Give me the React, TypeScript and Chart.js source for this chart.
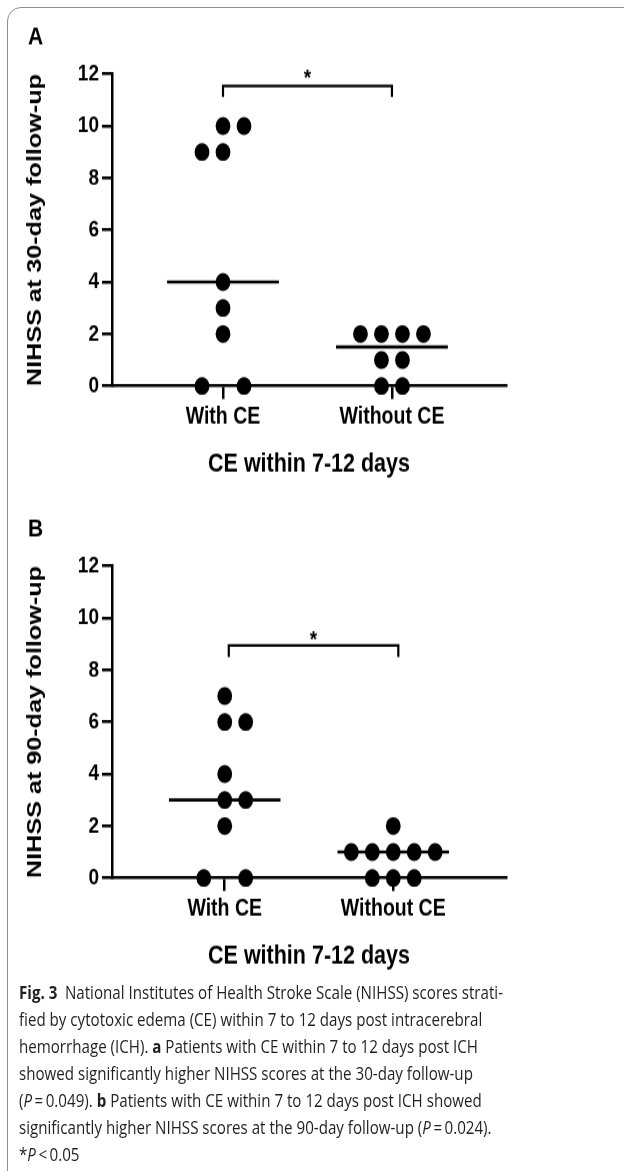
import React, { useEffect, useLayoutEffect, useRef } from "react";
import { Chart, registerables } from "chart.js";

Chart.register(...registerables);

// ---------------- data ----------------
const CATEGORIES = ["With CE", "Without CE"];
const CATEGORY_POS = [1, 2];
const Y_MIN = 0;
const Y_MAX = 12;
const Y_STEP = 2;

// Panel A – 30-day follow-up
const withCE30 = [10, 10, 9, 9, 4, 3, 2, 0, 0];
const withCE30Slot = [0, 1, -1, 0, 0, 0, 0, -1, 1];
const withoutCE30 = [2, 2, 2, 2, 1, 1, 0, 0];
const withoutCE30Slot = [-1.5, -0.5, 0.5, 1.5, -0.5, 0.5, -0.5, 0.5];

// Panel B – 90-day follow-up
const withCE90 = [7, 6, 6, 4, 3, 3, 2, 0, 0];
const withCE90Slot = [0, 0, 1, 0, 0, 1, 0, -1, 1];
const withoutCE90 = [2, 1, 1, 1, 1, 1, 0, 0, 0];
const withoutCE90Slot = [0, -2, -1, 0, 1, 2, -1, 0, 1];

const panelLetters = ["A", "B"];
const yTitles = ["NIHSS at 30-day follow-up", "NIHSS at 90-day follow-up"];
const xTitle = "CE within 7-12 days";
const sigMark = "*";

// ---------------- styles ----------------
const K = 1.2; // vertical stretch of the original figure
const CW = 624;
const CH = 410;
const FONT = "'Liberation Sans', Arial, Helvetica, sans-serif";
const SLOT = 0.1243; // horizontal spacing of stacked dots (x units)
const HALF_MEDIAN = 0.331;
const AREA_TOP = 74 / K;
const AREA_BOTTOM = 386 / K;
const PAD_LEFT = 22.4;
const AREA_LEFT = 112;

const median = (a: number[]) => {
  const s = [...a].sort((p, q) => p - q);
  const n = s.length;
  return n % 2 ? s[(n - 1) / 2] : (s[n / 2 - 1] + s[n / 2]) / 2;
};

type Panel = {
  letter: string;
  yTitle: string;
  withVals: number[];
  withSlots: number[];
  withoutVals: number[];
  withoutSlots: number[];
  xMin: number;
  xMax: number;
  bracket: { x1: number; x2: number; top: number; leg: number; star: number };
};

const panels: Panel[] = [
  {
    letter: panelLetters[0],
    yTitle: yTitles[0],
    withVals: withCE30,
    withSlots: withCE30Slot,
    withoutVals: withoutCE30,
    withoutSlots: withoutCE30Slot,
    xMin: 0.343,
    xMax: 2.675,
    bracket: { x1: 1, x2: 2, top: 11.54, leg: 11.12, star: 12.05 },
  },
  {
    letter: panelLetters[1],
    yTitle: yTitles[1],
    withVals: withCE90,
    withSlots: withCE90Slot,
    withoutVals: withoutCE90,
    withoutSlots: withoutCE90Slot,
    xMin: 0.331,
    xMax: 2.669,
    bracket: { x1: 1.024, x2: 2.03, top: 8.94, leg: 8.5, star: 9.4 },
  },
];

const annotPlugin = {
  id: "annot",
  afterDatasetsDraw(chart: any, _args: any, opts: any) {
    const { ctx, scales } = chart;
    const x = scales.x;
    const y = scales.y;
    ctx.save();
    ctx.fillStyle = "#000";
    // significance star
    ctx.font = `bold 19px ${FONT}`;
    ctx.textAlign = "center";
    ctx.textBaseline = "alphabetic";
    const sx = x.getPixelForValue((opts.x1 + opts.x2) / 2);
    const sy = y.getPixelForValue(opts.star) + 0.57 * 19;
    ctx.fillText(opts.mark, sx, sy);
    // panel letter
    ctx.font = `bold 21px ${FONT}`;
    ctx.textAlign = "left";
    ctx.textBaseline = "middle";
    ctx.fillText(opts.letter, 28, 38 / K);
    ctx.restore();
  },
};

function buildChart(canvas: HTMLCanvasElement, p: Panel) {
  const pts = (vals: number[], slots: number[], cat: number) =>
    vals.map((v, i) => ({ x: cat + slots[i] * SLOT, y: v }));
  const m1 = median(p.withVals);
  const m2 = median(p.withoutVals);
  const lineDs = (data: any[], w: number) => ({
    type: "line" as const,
    data,
    borderColor: "#000",
    borderWidth: w,
    pointRadius: 0,
    showLine: true,
    clip: false as const,
    borderCapStyle: "butt" as const,
    borderJoinStyle: "miter" as const,
  });
  return new Chart(canvas, {
    type: "scatter",
    data: {
      datasets: [
        lineDs(
          [
            { x: CATEGORY_POS[0] - HALF_MEDIAN, y: m1 },
            { x: CATEGORY_POS[0] + HALF_MEDIAN, y: m1 },
          ],
          2.6
        ),
        lineDs(
          [
            { x: CATEGORY_POS[1] - HALF_MEDIAN, y: m2 },
            { x: CATEGORY_POS[1] + HALF_MEDIAN, y: m2 },
          ],
          2.6
        ),
        lineDs(
          [
            { x: p.bracket.x1, y: p.bracket.leg },
            { x: p.bracket.x1, y: p.bracket.top },
            { x: p.bracket.x2, y: p.bracket.top },
            { x: p.bracket.x2, y: p.bracket.leg },
          ],
          2.2
        ),
        {
          type: "scatter" as const,
          data: [
            ...pts(p.withVals, p.withSlots, CATEGORY_POS[0]),
            ...pts(p.withoutVals, p.withoutSlots, CATEGORY_POS[1]),
          ],
          pointRadius: 7.4,
          pointHoverRadius: 7.4,
          pointBackgroundColor: "#000",
          pointBorderWidth: 0,
          clip: false as const,
        },
      ] as any,
    },
    options: {
      animation: false,
      responsive: false,
      maintainAspectRatio: false,
      events: [],
      layout: { padding: { top: AREA_TOP, left: PAD_LEFT, right: CW - 506, bottom: 0 } },
      plugins: {
        legend: { display: false },
        tooltip: { enabled: false },
        annot: {
          x1: p.bracket.x1,
          x2: p.bracket.x2,
          star: p.bracket.star,
          mark: sigMark,
          letter: p.letter,
        },
      } as any,
      scales: {
        x: {
          type: "linear",
          min: p.xMin,
          max: p.xMax,
          afterBuildTicks: (s: any) => {
            s.ticks = CATEGORY_POS.map((v) => ({ value: v }));
          },
          afterFit: (s: any) => {
            s.height = CH - AREA_BOTTOM;
          },
          ticks: {
            callback: (_v: any, i: number) => CATEGORIES[i],
            font: { family: FONT, size: 19.5, weight: "bold" },
            color: "#000",
            padding: 3,
            maxRotation: 0,
            autoSkip: false,
          },
          grid: {
            display: true,
            drawOnChartArea: false,
            drawTicks: true,
            tickLength: 13 / K,
            color: "#000",
            lineWidth: 2.5,
          },
          border: { display: true, color: "#000", width: 2.5 },
          title: {
            display: true,
            text: xTitle,
            font: { family: FONT, size: 21.5, weight: "bold" },
            color: "#000",
            padding: { top: 0, bottom: 9.6 },
          },
        },
        y: {
          type: "linear",
          min: Y_MIN,
          max: Y_MAX,
          afterFit: (s: any) => {
            s.width = AREA_LEFT - PAD_LEFT;
          },
          ticks: {
            stepSize: Y_STEP,
            font: { family: FONT, size: 19, weight: "bold" },
            color: "#000",
            padding: 3,
          },
          grid: {
            display: true,
            drawOnChartArea: false,
            drawTicks: true,
            tickLength: 10,
            color: "#000",
            lineWidth: 2.5,
          },
          border: { display: true, color: "#000", width: 2.5 },
          title: {
            display: true,
            text: p.yTitle,
            font: { family: FONT, size: 21, weight: "bold" },
            color: "#000",
            padding: { top: 0, bottom: 0 },
          },
        },
      } as any,
    },
    plugins: [annotPlugin],
  } as any);
}

function PanelChart({ panel, top }: { panel: Panel; top: number }) {
  const ref = useRef<HTMLCanvasElement | null>(null);
  useEffect(() => {
    if (!ref.current) return;
    const c = buildChart(ref.current, panel);
    return () => c.destroy();
  }, [panel]);
  return (
    <canvas
      ref={ref}
      width={CW}
      height={CH}
      style={{ position: "absolute", left: 0, top, width: `${CW}px`, height: `${CH * K}px` }}
    />
  );
}

const CAPTION_TARGET_WIDTH = 484;

function Caption() {
  const boxRef = useRef<HTMLDivElement | null>(null);
  const firstRef = useRef<HTMLSpanElement | null>(null);
  useLayoutEffect(() => {
    if (!boxRef.current || !firstRef.current) return;
    const w = firstRef.current.getBoundingClientRect().width;
    if (w > 0) boxRef.current.style.transform = `scaleX(${CAPTION_TARGET_WIDTH / w})`;
  }, []);
  const it = (t: string) => <i>{t}</i>;
  const b = (t: string) => <b style={{ fontWeight: 700 }}>{t}</b>;
  const lineStyle: React.CSSProperties = { whiteSpace: "nowrap", height: "27px" };
  return (
    <div
      ref={boxRef}
      style={{
        position: "absolute",
        left: 19,
        top: 978,
        fontFamily: "'Open Sans', 'Noto Sans', sans-serif",
        fontSize: "18.5px",
        lineHeight: "27px",
        color: "#231f20",
        transformOrigin: "0 0",
      }}
    >
      <div style={lineStyle}>
        <span ref={firstRef}>
          {b("Fig. 3")}
          {"\u2002National Institutes of Health Stroke Scale (NIHSS) scores strati-"}
        </span>
      </div>
      <div style={lineStyle}>fied by cytotoxic edema (CE) within 7 to 12 days post intracerebral</div>
      <div style={lineStyle}>
        hemorrhage (ICH). {b("a")} Patients with CE within 7 to 12 days post ICH
      </div>
      <div style={lineStyle}>showed significantly higher NIHSS scores at the 30-day follow-up</div>
      <div style={lineStyle}>
        ({it("P")}
        {"\u2009=\u20090.049). "}
        {b("b")} Patients with CE within 7 to 12 days post ICH showed
      </div>
      <div style={lineStyle}>
        significantly higher NIHSS scores at the 90-day follow-up ({it("P")}
        {"\u2009=\u20090.024)."}
      </div>
      <div style={lineStyle}>
        *{it("P")}
        {"\u2009<\u20090.05"}
      </div>
    </div>
  );
}

export default function App() {
  return (
    <div
      style={{
        position: "absolute",
        left: 0,
        top: 0,
        width: CW,
        height: 1171,
        overflow: "hidden",
        background: "#fff",
      }}
    >
      <div
        style={{
          position: "absolute",
          left: 7,
          top: 7,
          width: 700,
          height: 1300,
          border: "1.4px solid #8f8f8f",
          borderRadius: 14,
          boxSizing: "border-box",
        }}
      />
      <PanelChart panel={panels[0]} top={0} />
      <PanelChart panel={panels[1]} top={492} />
      <Caption />
    </div>
  );
}
